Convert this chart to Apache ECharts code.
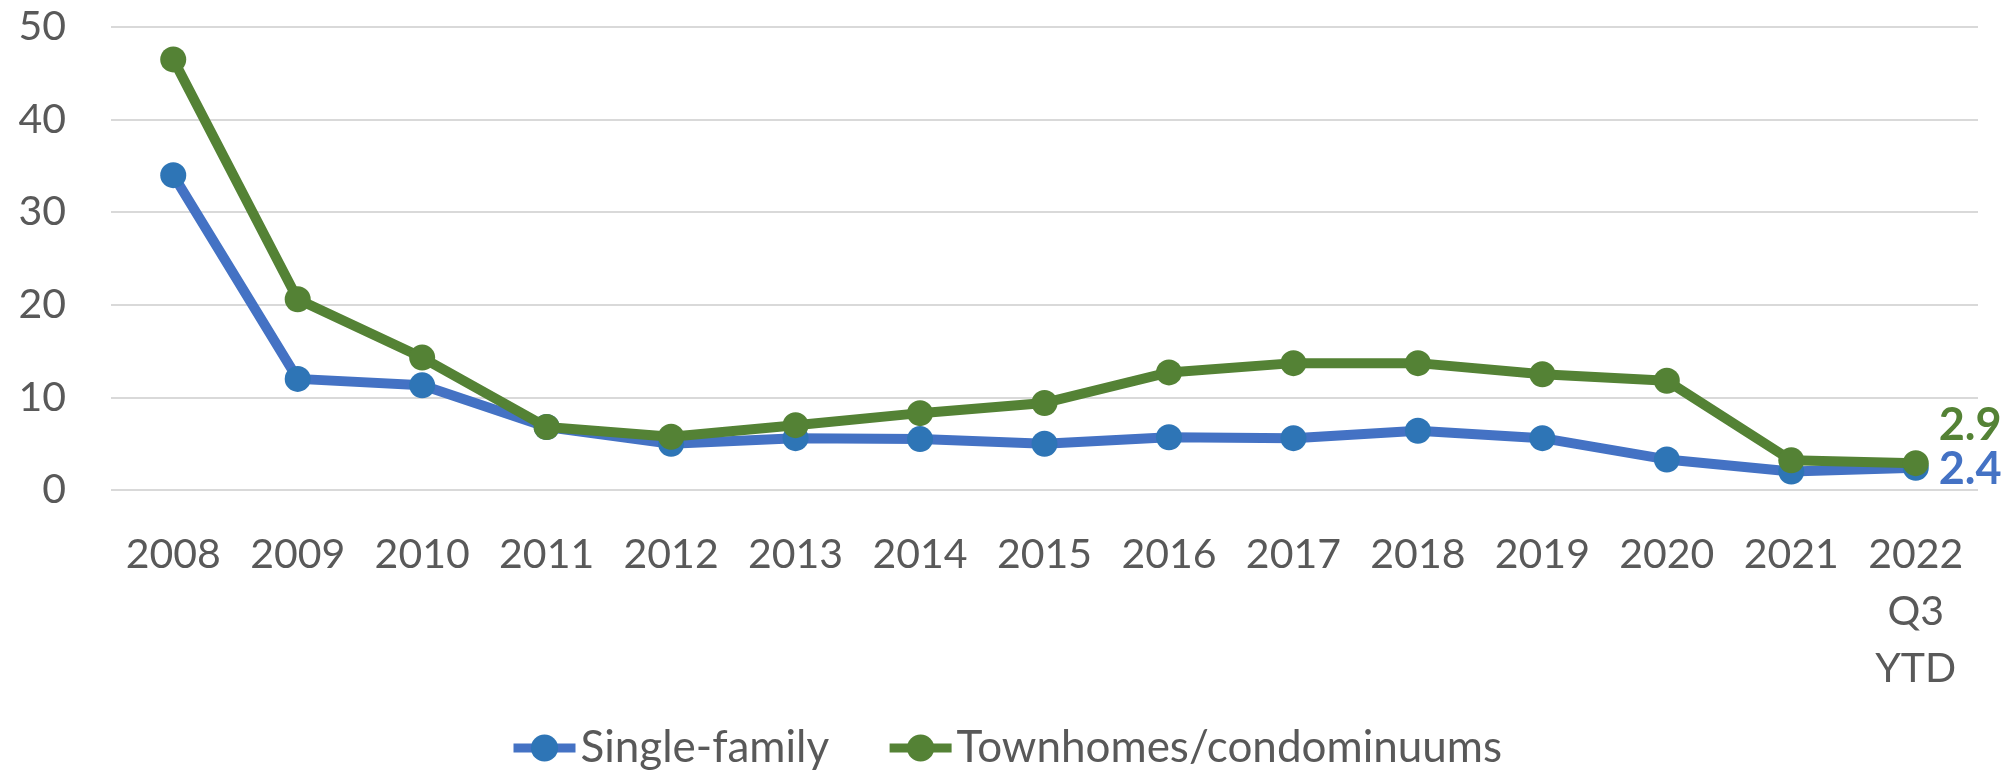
<!DOCTYPE html>
<html>
<head>
<meta charset="utf-8">
<script src="https://cdn.jsdelivr.net/npm/echarts@6/dist/echarts.min.js"></script>
<style>
  html, body { margin: 0; padding: 0; background: #fff; }
  #chart { width: 2015px; height: 774px; }
</style>
</head>
<body>
<div id="chart"></div>
<script>
const years = ['2008', '2009', '2010', '2011', '2012', '2013', '2014', '2015',
  '2016', '2017', '2018', '2019', '2020', '2021', '2022\nQ3\nYTD'];
const singleFamily = [34.0, 12.0, 11.3, 6.8, 5.0, 5.6, 5.5, 5.0, 5.7, 5.6, 6.4, 5.6, 3.3, 2.0, 2.4];
const townhomes = [46.5, 20.6, 14.3, 6.8, 5.75, 7.0, 8.3, 9.4, 12.7, 13.7, 13.7, 12.5, 11.8, 3.2, 2.9];
const yTicks = [0, 10, 20, 30, 40, 50];

const font = 'Lato';
const textColor = '#595959';

// label only the last point of each series
const lastLabel = (arr, color, offsetY) => arr.map((v, i) => i === arr.length - 1
  ? {
      value: v,
      label: {
        show: true, position: 'right', distance: 10, offset: [0, offsetY],
        color: color, fontFamily: font, fontWeight: 'bold', fontSize: 45,
        formatter: (p) => p.value.toFixed(1),
      },
    }
  : v);

const myChart = echarts.init(document.getElementById('chart'));

const option = {
  backgroundColor: '#fff',
  animation: false,
  grid: { left: 111, right: 37, top: 27, bottom: 284 },
  legend: {
    left: 504,
    top: 721,
    itemWidth: 62,
    itemHeight: 34,
    itemGap: 56,
    lineStyle: { width: 9 },
    textStyle: { fontFamily: font, fontSize: 44, color: textColor },
    data: ['Single-family', 'Townhomes/condominuums'],
  },
  xAxis: {
    type: 'category',
    data: years,
    boundaryGap: true,
    axisLine: { show: false },
    axisTick: { show: false },
    axisLabel: {
      interval: 0,
      margin: 36,
      fontFamily: font,
      fontSize: 41,
      lineHeight: 57,
      color: textColor,
    },
  },
  yAxis: {
    type: 'value',
    min: yTicks[0],
    max: yTicks[yTicks.length - 1],
    interval: 10,
    axisLine: { show: false },
    axisTick: { show: false },
    splitLine: { lineStyle: { color: '#D9D9D9', width: 2 } },
    axisLabel: { margin: 45, fontFamily: font, fontSize: 41, color: textColor },
  },
  series: [
    {
      name: 'Single-family',
      type: 'line',
      data: lastLabel(singleFamily, '#4472C4', 2),
      symbol: 'circle',
      symbolSize: 26,
      lineStyle: { width: 10, color: '#4472C4' },
      itemStyle: { color: '#2E75B6' },
      z: 2,
    },
    {
      name: 'Townhomes/condominuums',
      type: 'line',
      data: lastLabel(townhomes, '#548235', -38),
      symbol: 'circle',
      symbolSize: 26,
      lineStyle: { width: 10, color: '#548235' },
      itemStyle: { color: '#548235' },
      z: 3,
    },
  ],
};
myChart.setOption(option);
</script>
</body>
</html>
